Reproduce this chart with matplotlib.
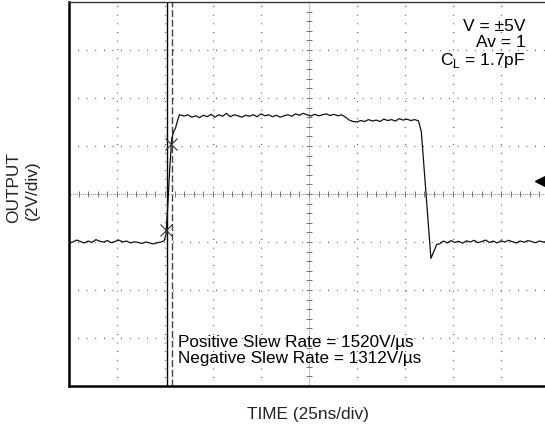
import numpy as np
import matplotlib.pyplot as plt

plt.rcParams['font.family'] = ['Liberation Sans', 'DejaVu Sans']

# scope settings: 25 ns/div horizontally, 2 V/div vertically
T_DIV = 25.0
V_DIV = 2.0

# output trace: (time ns, output V)
trace_points = [
    (0, -2.05), (2, -2.0), (4, -1.92), (6, -1.98), (8, -2.04), (10, -1.96), (12, -2.02),
    (14, -1.9), (16, -1.97), (18, -2.0), (20, -1.94), (22, -2.03), (24, -1.98), (26, -1.92),
    (28, -2.0), (30, -1.96), (32, -2.04), (34, -1.99), (36, -2.02), (38, -2.06), (40, -2.0),
    (42, -2.04), (44, -2.08), (46, -2.03), (48, -2.0), (49.5, -1.95),
    (50.5, -1.7), (51.5, -0.4), (52.5, 1.1), (53.5, 2.3), (54.5, 2.6), (55.5, 2.75),
    (56.5, 3.05), (57.5, 3.3),
    (60, 3.25), (62, 3.3), (64, 3.2), (66, 3.26), (68, 3.18), (70, 3.28), (72, 3.22),
    (74, 3.32), (76, 3.2), (78, 3.3), (80, 3.24), (82, 3.36), (84, 3.22), (86, 3.3),
    (88, 3.26), (90, 3.2), (92, 3.28), (94, 3.24), (96, 3.3), (98, 3.22), (100, 3.34),
    (102, 3.26), (104, 3.3), (106, 3.22), (108, 3.28), (110, 3.2), (112, 3.26), (114, 3.3),
    (116, 3.24), (118, 3.34), (120, 3.28), (122, 3.36), (124, 3.3), (126, 3.25), (128, 3.32),
    (130, 3.26), (132, 3.3), (134, 3.34), (136, 3.27), (138, 3.32), (140, 3.26), (142, 3.3),
    (144, 3.2), (146, 3.08), (148, 3.02), (150, 3.0), (152, 3.06), (154, 3.02), (156, 3.1),
    (158, 3.04), (160, 3.08), (162, 3.02), (164, 3.12), (166, 3.06), (168, 3.1), (170, 3.04),
    (172, 3.14), (174, 3.08), (176, 3.12), (178, 3.06), (180, 3.1), (182, 3.05),
    (183.5, 2.6), (188.5, -2.68), (190, -2.4), (191.5, -2.1),
    (193, -2.08), (195, -1.96), (197, -2.04), (199, -1.94), (201, -2.02), (203, -1.97),
    (205, -2.05), (207, -1.95), (209, -2.0), (211, -1.93), (213, -2.03), (215, -1.98),
    (217, -1.92), (219, -2.02), (221, -1.96), (223, -2.04), (225, -1.95), (227, -2.0),
    (229, -1.93), (231, -1.99), (233, -2.04), (235, -1.96), (237, -2.01), (239, -1.94),
    (241, -1.98), (243, -2.03), (245, -1.96), (247, -2.0), (250, -1.97),
]
trace_t = [p[0] for p in trace_points]
trace_v = [p[1] for p in trace_points]

# slew rate markers (X) and cursor positions
mark_t = [50.5, 53.1]
mark_v = [-1.5, 2.1]
cursor_solid = 51.0
cursor_dash = 53.6
level_marker_v = 0.55

notes = ["V = \u00b15V", "Av = 1", "C$_\\mathregular{L}$ = 1.7pF"]
slew_notes = ["Positive Slew Rate = 1520V/\u00b5s", "Negative Slew Rate = 1312V/\u00b5s"]

fig = plt.figure(figsize=(5.45, 4.29), dpi=100)
ax = fig.add_axes([69 / 545, 43 / 429, 480 / 545, 384 / 429])

ax.set_xlim(0, 10 * T_DIV)
ax.set_ylim(-4 * V_DIV, 4 * V_DIV)

# dotted graticule
dot = (0, (0.6, 6.3))
for i in range(1, 10):
    if i != 5:
        ax.axvline(i * T_DIV, color='#333333', lw=0.9, ls=dot, zorder=1)
for j in range(-3, 4):
    if j != 0:
        ax.axhline(j * V_DIV, color='#333333', lw=0.9, ls=dot, zorder=1)

# centre axes with minor ticks
ax.axhline(0, color='#555555', lw=0.8, ls=(0, (0.6, 1.2)), zorder=1)
ax.axvline(5 * T_DIV, color='#555555', lw=0.8, ls=(0, (0.6, 1.2)), zorder=1)
minor_t = np.arange(0, 10 * T_DIV + 0.1, T_DIV / 5)
minor_v = np.arange(-4 * V_DIV, 4 * V_DIV + 0.01, V_DIV / 5)
ax.plot(minor_t, np.zeros_like(minor_t), ls='none', marker='|', ms=4,
        mew=0.7, color='#777777', zorder=1)
ax.plot(np.full_like(minor_v, 5 * T_DIV), minor_v, ls='none', marker='_', ms=4,
        mew=0.7, color='#777777', zorder=1)

# cursors
ax.axvline(cursor_solid, color='black', lw=1.0, zorder=2)
ax.axvline(cursor_dash, color='#444444', lw=1.0, ls=(0, (5, 2)), zorder=2)

# waveform
ax.plot(trace_t, trace_v, color='#111111', lw=0.9, zorder=3)
ax.plot(mark_t, mark_v, ls='none', marker='x', ms=9, mew=0.8, color='#333333', zorder=4)
ax.plot([245.5], [level_marker_v], marker='<', ms=6.5, color='black', clip_on=False, zorder=4)

for k, s in enumerate(notes):
    ax.text(0.951, 0.955 - k * 0.041, s, transform=ax.transAxes, ha='right', va='top',
            fontsize=12.5)
for k, s in enumerate(slew_notes):
    ax.text(0.228, 0.1016 - k * 0.0415, s, transform=ax.transAxes, ha='left', va='baseline',
            fontsize=12.3)

ax.set_xticks([])
ax.set_yticks([])
ax.spines['left'].set_linewidth(1.8)
ax.spines['bottom'].set_linewidth(1.8)
ax.spines['top'].set_linewidth(1.0)
ax.spines['top'].set_color('#333333')
ax.spines['right'].set_visible(False)

fig.text(308 / 545, 1 - 415 / 429, "TIME (25ns/div)", ha='center', va='center',
         fontsize=12.4, color='#222222')
fig.text(14 / 545, 1 - 188 / 429, "OUTPUT", ha='center', va='center', rotation=90,
         fontsize=12.4, color='#222222')
fig.text(32 / 545, 1 - 190 / 429, "(2V/div)", ha='center', va='center', rotation=90,
         fontsize=12.4, color='#222222')

fig.savefig("out.png", dpi=100)
